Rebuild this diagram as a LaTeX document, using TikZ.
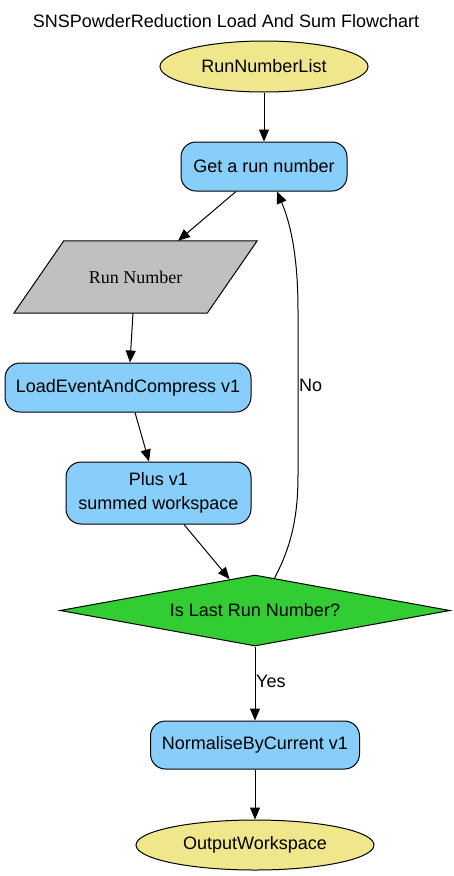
\documentclass[tikz,border=0pt]{standalone}
\usepackage{fontspec}
\setmainfont{Liberation Sans}
\newfontfamily\timesfont{Liberation Serif}
\usetikzlibrary{arrows.meta,calc,shapes.geometric,backgrounds}

\definecolor{khaki}{HTML}{F0E68C}
\definecolor{skyblue}{HTML}{87CEFA}
\definecolor{limegreen}{HTML}{32CD32}
\definecolor{silvergray}{HTML}{C0C0C0}

\begin{document}
\begin{tikzpicture}[x=1pt,y=-1pt,
  every node/.style={font=\fontsize{18}{24}\selectfont},
  line/.style={line width=1pt,-{Triangle[length=12pt,width=10pt]}},
  io/.style={ellipse,draw,line width=1pt,fill=khaki,minimum height=51pt,inner sep=0pt},
  algo/.style={rectangle,rounded corners=15pt,draw,line width=1pt,fill=skyblue,
    align=center,minimum height=49pt,inner sep=0pt},
  value/.style={rectangle,minimum width=243pt,minimum height=72pt,inner sep=0pt,
    font=\fontsize{18}{24}\timesfont},
  test/.style={diamond,aspect=5.5,draw,line width=1pt,fill=limegreen,
    minimum width=390pt,minimum height=71pt,inner sep=0pt},
  edgelabel/.style={anchor=west,inner sep=0pt}]

\useasboundingbox (0,0) rectangle (453,876);

% Title
\node[anchor=base] (title) at (226,27.5) {SNSPowderReduction Load And Sum Flowchart};

% Input
\node[io,minimum width=208pt] (runlist) at (264,66.5) {RunNumberList};

% Loop over runs
\node[algo,minimum width=166pt] (getrun) at (264,166.5) {Get a run number};
\node[value] (runno) at (135.5,277) {Run Number};
\begin{scope}[on background layer]
  \draw[line width=1pt,fill=silvergray] ([xshift=50pt]runno.north west) -- (runno.north east)
    -- ([xshift=-50pt]runno.south east) -- (runno.south west) -- cycle;
\end{scope}
\node[algo,minimum width=246pt] (load) at (128,387.5) {LoadEventAndCompress v1};
\node[algo,minimum width=185pt,minimum height=62pt] (plus) at (158.5,493)
  {Plus v1\\summed workspace};
\node[test] (decide) at (255,610.5) {Is Last Run Number?};

% Output
\node[algo,minimum width=209pt,minimum height=48pt] (norm) at (255,745) {NormaliseByCurrent v1};
\node[io,minimum width=238pt,minimum height=50pt] (output) at (255,845) {OutputWorkspace};

% Edges
\draw[line] (runlist.south) -- (getrun.north);
\draw[line] ([xshift=-28pt]getrun.south) -- ([xshift=42.5pt]runno.north);
\draw[line] ([xshift=-2.5pt]runno.south) -- ([xshift=2pt]load.north);
\draw[line] ([xshift=7pt]load.south) -- ([xshift=-9.5pt]plus.north);
\draw[line] ([xshift=25.5pt]plus.south) -- ($(decide.north)!0.13!(decide.west)$);

% No: back to the top of the loop
\draw[line] ($(decide.north)!0.1!(decide.east)$) .. controls (292,545) and (298,515) .. (298,475)
  -- (298,310) .. controls (298,255) and (290,222) .. ([xshift=13pt]getrun.south);
\node[edgelabel] (nolabel) at (299,385) {No};

% Yes: leave the loop
\draw[line] (decide.south) -- (norm.north);
\node[edgelabel] (yeslabel) at (256,681) {Yes};
\draw[line] (norm.south) -- (output.north);

\end{tikzpicture}
\end{document}
